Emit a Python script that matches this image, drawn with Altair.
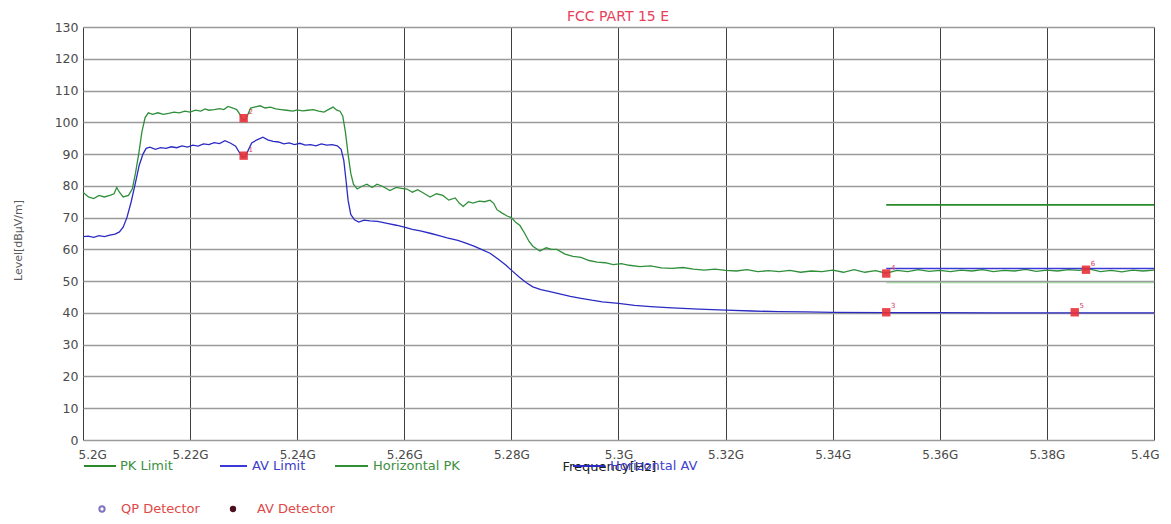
import altair as alt
import pandas as pd

# ---------------- data ----------------
PK_FREQ = [
    5.2000, 5.2010, 5.2020, 5.2030, 5.2040, 5.2050, 5.2058, 5.2063, 5.2068, 5.2075,
    5.2085, 5.2092, 5.2098, 5.2104, 5.2110, 5.2116, 5.2122, 5.2130, 5.2140, 5.2150,
    5.2160, 5.2170, 5.2180, 5.2190, 5.2200, 5.2210, 5.2220, 5.2228, 5.2235, 5.2245,
    5.2255, 5.2263, 5.2271, 5.2280, 5.2287, 5.2293, 5.2298, 5.2303, 5.2308, 5.2313,
    5.2320, 5.2331, 5.2340, 5.2350, 5.2360, 5.2370, 5.2380, 5.2392, 5.2400, 5.2410,
    5.2420, 5.2430, 5.2440, 5.2450, 5.2458, 5.2467, 5.2474, 5.2480, 5.2485, 5.2490,
    5.2495, 5.2500, 5.2505, 5.2512, 5.2520, 5.2530, 5.2540, 5.2549, 5.2560, 5.2573,
    5.2585, 5.2595, 5.2605, 5.2615, 5.2625, 5.2638, 5.2648, 5.2660, 5.2672, 5.2683,
    5.2695, 5.2703, 5.2710, 5.2720, 5.2728, 5.2740, 5.2750, 5.2760, 5.2767, 5.2773,
    5.2782, 5.2792, 5.2800, 5.2808, 5.2816, 5.2825, 5.2833, 5.2840, 5.2853, 5.2865,
    5.2875, 5.2885, 5.2900, 5.2915, 5.2930, 5.2945, 5.2960, 5.2975, 5.2990, 5.3005,
    5.3020, 5.3040, 5.3060, 5.3080, 5.3100, 5.3120, 5.3140, 5.3160, 5.3180, 5.3200,
    5.3220, 5.3240, 5.3260, 5.3280, 5.3300, 5.3320, 5.3340, 5.3360, 5.3380, 5.3400,
    5.3420, 5.3440, 5.3460, 5.3480, 5.3500, 5.3520, 5.3540, 5.3560, 5.3580, 5.3600,
    5.3620, 5.3640, 5.3660, 5.3680, 5.3700, 5.3720, 5.3740, 5.3760, 5.3780, 5.3800,
    5.3820, 5.3840, 5.3860, 5.3880, 5.3900, 5.3920, 5.3940, 5.3960, 5.3980, 5.4000,
]
PK_LEVEL = [
    78.0, 76.5, 76.0, 77.0, 76.5, 77.0, 77.5, 79.5, 78.0, 76.5,
    77.0, 79.0, 84.0, 90.0, 97.0, 101.5, 103.0, 102.5, 103.0, 102.5,
    102.8, 103.2, 103.0, 103.5, 103.2, 103.8, 103.5, 104.2, 103.8, 104.0,
    104.3, 104.0, 105.0, 104.5, 104.0, 102.5, 100.8, 100.8, 102.5, 104.5,
    104.8, 105.2, 104.5, 104.8, 104.2, 104.0, 103.8, 103.5, 103.9, 103.6,
    103.8, 104.0, 103.5, 103.2, 104.0, 104.8, 103.8, 103.5, 102.0, 97.0,
    90.0, 84.0, 80.5, 79.0, 79.8, 80.5, 79.5, 80.5, 79.8, 78.5,
    79.5, 79.2, 79.0, 78.0, 78.8, 77.5, 76.5, 77.5, 77.0, 75.5,
    76.2, 74.5, 73.5, 75.0, 74.6, 75.2, 75.0, 75.5, 74.5, 72.5,
    71.5, 70.5, 70.0, 68.5, 67.5, 65.0, 62.5, 61.0, 59.5, 60.5,
    60.0, 60.0, 58.5, 57.8, 57.5, 56.5, 56.0, 55.8, 55.2, 55.5,
    55.0, 54.6, 54.8, 54.2, 54.0, 54.3, 53.8, 53.5, 53.8, 53.4,
    53.2, 53.6, 53.0, 53.3, 53.0, 53.4, 52.8, 53.2, 53.0, 53.5,
    52.8, 53.6, 52.8, 53.3, 52.5, 53.4, 53.0, 53.6, 53.1, 53.4,
    53.0, 53.5, 53.2, 53.6, 53.0, 53.4, 53.2, 53.7, 53.1, 53.5,
    53.2, 53.6, 53.4, 53.8, 53.0, 53.4, 52.9, 53.5, 53.2, 53.5,
]

AV_FREQ = [
    5.2000, 5.2010, 5.2020, 5.2030, 5.2040, 5.2050, 5.2060, 5.2068, 5.2075, 5.2082,
    5.2090, 5.2098, 5.2105, 5.2112, 5.2118, 5.2125, 5.2135, 5.2145, 5.2155, 5.2165,
    5.2175, 5.2185, 5.2195, 5.2205, 5.2215, 5.2225, 5.2235, 5.2245, 5.2255, 5.2265,
    5.2275, 5.2285, 5.2292, 5.2298, 5.2303, 5.2308, 5.2315, 5.2325, 5.2336, 5.2345,
    5.2355, 5.2365, 5.2375, 5.2385, 5.2395, 5.2405, 5.2415, 5.2425, 5.2435, 5.2445,
    5.2455, 5.2465, 5.2475, 5.2482, 5.2487, 5.2491, 5.2495, 5.2500, 5.2507, 5.2515,
    5.2525, 5.2536, 5.2550, 5.2568, 5.2585, 5.2600, 5.2615, 5.2630, 5.2650, 5.2665,
    5.2680, 5.2700, 5.2715, 5.2730, 5.2745, 5.2760, 5.2775, 5.2790, 5.2803, 5.2815,
    5.2828, 5.2840, 5.2855, 5.2870, 5.2890, 5.2910, 5.2930, 5.2950, 5.2970, 5.3000,
    5.3030, 5.3060, 5.3100, 5.3150, 5.3200, 5.3250, 5.3300, 5.3350, 5.3400, 5.3500,
    5.3600, 5.3700, 5.3800, 5.3900, 5.4000,
]
AV_LEVEL = [
    64.0, 64.2, 63.8, 64.3, 64.0, 64.5, 64.8, 65.5, 67.0, 70.0,
    75.0, 81.0, 86.5, 90.0, 91.8, 92.2, 91.5, 92.0, 91.8, 92.3,
    92.0, 92.6, 92.2, 92.8, 92.5, 93.2, 93.0, 93.6, 93.3, 94.2,
    93.5, 92.5, 90.5, 89.0, 89.2, 91.0, 93.5, 94.5, 95.3, 94.5,
    94.0, 93.8, 93.2, 93.5, 93.0, 93.4, 92.8, 93.0, 92.6, 93.2,
    92.8, 93.0, 92.6, 91.5, 88.0, 82.0, 75.5, 71.0, 69.3, 68.6,
    69.2, 69.0, 68.8, 68.2, 67.6, 67.0, 66.3, 65.8, 65.0, 64.3,
    63.6, 62.8, 62.0, 61.0, 59.9, 58.8, 57.0, 55.0, 53.0, 51.2,
    49.5, 48.2, 47.3, 46.8, 46.0, 45.2, 44.6, 44.0, 43.5, 43.0,
    42.4, 42.0, 41.6, 41.2, 40.9, 40.6, 40.4, 40.3, 40.2, 40.1,
    40.1, 40.0, 40.0, 40.0, 40.0,
]

LIMIT_FREQ = [5.35, 5.40]
PK_LIMIT = [74.0, 74.0]
AV_LIMIT = [54.0, 54.0]
AUX_LINE = [49.5, 49.5]

MARK_FREQ = [5.2300, 5.2300, 5.3500, 5.3500, 5.3852, 5.3873]
MARK_LEVEL = [89.5, 101.3, 40.2, 52.4, 40.2, 53.6]
MARK_ID = ["1", "2", "3", "4", "5", "6"]

X_TICKS = [5.20, 5.22, 5.24, 5.26, 5.28, 5.30, 5.32, 5.34, 5.36, 5.38, 5.40]
Y_TICKS = [0, 10, 20, 30, 40, 50, 60, 70, 80, 90, 100, 110, 120, 130]

# ---------------- styling ----------------
FONT = "DejaVu Sans"
GREEN = "#2f8f3a"
LIMIT_GREEN = "#2a8a2a"
BLUE = "#2b2bc4"
LIMIT_BLUE = "#3a3ad8"
RED = "#e8303a"
LABEL_GRAY = "#4a4a4a"

pk_df = pd.DataFrame({"f": PK_FREQ, "v": PK_LEVEL})
av_df = pd.DataFrame({"f": AV_FREQ, "v": AV_LEVEL})
pkl_df = pd.DataFrame({"f": LIMIT_FREQ, "v": PK_LIMIT})
avl_df = pd.DataFrame({"f": LIMIT_FREQ, "v": AV_LIMIT})
aux_df = pd.DataFrame({"f": LIMIT_FREQ, "v": AUX_LINE})
mk_df = pd.DataFrame({"f": MARK_FREQ, "v": MARK_LEVEL, "id": MARK_ID})

xscale = alt.Scale(domain=[5.2, 5.4], nice=False, zero=False)
yscale = alt.Scale(domain=[0, 130], nice=False)

xaxis = alt.Axis(
    values=X_TICKS,
    labelExpr="format(datum.value, '.2~f') + 'G'",
    grid=True, gridColor="#2a2a2a", gridWidth=1, gridOpacity=0.9,
    ticks=False, domain=False, labelOverlap=False,
    labelFlush=True, labelFlushOffset=5,
    labelFont=FONT, labelFontSize=12, labelColor=LABEL_GRAY, labelPadding=9,
    title="Frequency[Hz]", titleFont=FONT, titleFontSize=13, titleFontWeight="normal",
    titleColor="#202020", titleX=479, titleY=26, titleAlign="left", titleBaseline="middle",
)
yaxis = alt.Axis(
    values=Y_TICKS,
    grid=True, gridColor="#9a9a9a", gridWidth=1.6,
    ticks=False, domain=False, labelOverlap=False, labelFlush=False,
    labelFont=FONT, labelFontSize=12.5, labelColor=LABEL_GRAY, labelPadding=5,
    title="Level[dBµV/m]", titleFont=FONT, titleFontSize=11, titleFontWeight="normal",
    titleColor="#5a5a5a", titleX=-65, titleY=213, titleAngle=-90,
    titleAlign="center", titleBaseline="middle",
)

X = alt.X("f:Q", scale=xscale, axis=xaxis)
Y = alt.Y("v:Q", scale=yscale, axis=yaxis)

pk_line = alt.Chart(pk_df).mark_line(color=GREEN, strokeWidth=1.3).encode(x=X, y=Y)
av_line = alt.Chart(av_df).mark_line(color=BLUE, strokeWidth=1.3).encode(x=X, y=Y)
pk_lim = alt.Chart(pkl_df).mark_line(color=LIMIT_GREEN, strokeWidth=1.6).encode(x=X, y=Y)
av_lim = alt.Chart(avl_df).mark_line(color=LIMIT_BLUE, strokeWidth=1.6).encode(x=X, y=Y)
aux_lim = alt.Chart(aux_df).mark_line(color="#8fcf8f", strokeWidth=1).encode(x=X, y=Y)
marks = alt.Chart(mk_df).mark_square(size=70, color=RED, opacity=0.9).encode(x=X, y=Y)
mark_ids = alt.Chart(mk_df).mark_text(
    color="#d04060", font=FONT, fontSize=7, dx=7, dy=-6
).encode(x=X, y=Y, text="id:N")

# ---------------- title and manual legend (pixel positions relative to plot) ----------------
one = pd.DataFrame({"k": [0]})
title_layer = alt.Chart(one).mark_text(
    text="FCC PART 15 E", align="center", baseline="middle", font=FONT, fontSize=14,
    color="#e8405a",
).encode(x=alt.value(535), y=alt.value(-10))

legend_layers = []
line_items = [
    (1, 33, 37, "PK Limit", LIMIT_GREEN, "#3c9040"),
    (137, 164, 169, "AV Limit", LIMIT_BLUE, "#3c3ccc"),
    (252, 285, 290, "Horizontal PK", GREEN, "#3c9040"),
    (490, 522, 527, "Horizontal AV", BLUE, "#4040d0"),
]
ROW1 = 439
ROW2 = 482
for x1, x2, xt, label, lc, tc in line_items:
    legend_layers.append(
        alt.Chart(one).mark_rule(color=lc, strokeWidth=2).encode(
            x=alt.value(x1), x2=alt.value(x2), y=alt.value(ROW1)
        )
    )
    legend_layers.append(
        alt.Chart(one).mark_text(
            text=label, align="left", baseline="middle", font=FONT, fontSize=13, color=tc
        ).encode(x=alt.value(xt), y=alt.value(ROW1))
    )
legend_layers.append(
    alt.Chart(one).mark_point(shape="circle", size=28, filled=False, color="#4a3aa8", strokeWidth=2).encode(
        x=alt.value(19), y=alt.value(ROW2)
    )
)
legend_layers.append(
    alt.Chart(one).mark_text(
        text="QP Detector", align="left", baseline="middle", font=FONT, fontSize=13, color="#e04848"
    ).encode(x=alt.value(38), y=alt.value(ROW2))
)
legend_layers.append(
    alt.Chart(one).mark_point(shape="circle", size=40, filled=True, color="#4a1020", opacity=1).encode(
        x=alt.value(150), y=alt.value(ROW2)
    )
)
legend_layers.append(
    alt.Chart(one).mark_text(
        text="AV Detector", align="left", baseline="middle", font=FONT, fontSize=13, color="#e04848"
    ).encode(x=alt.value(174), y=alt.value(ROW2))
)

chart = alt.layer(
    pk_line, aux_lim, av_line, pk_lim, av_lim, marks, mark_ids, title_layer, *legend_layers
).properties(
    width=1071,
    height=413,
    padding={"left": 75, "top": 19, "right": 9, "bottom": 76},
    autosize=alt.AutoSizeParams(type="none"),
).configure_view(
    stroke="#8a8a8a", strokeWidth=1
).configure(background="white")

chart.save("out.html", embed_options={"renderer": "svg", "actions": False})
